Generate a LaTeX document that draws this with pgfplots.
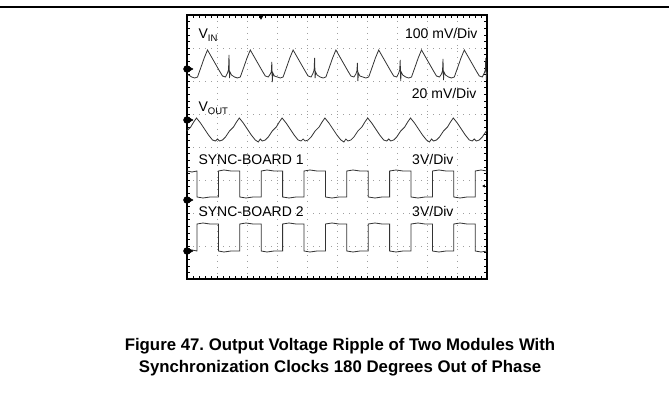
\documentclass[border=0pt]{standalone}
\usepackage{fontspec}
\setmainfont{Liberation Sans}
\usepackage{pgfplots}
\pgfplotsset{compat=1.18}
\frenchspacing
\begin{document}
\begin{tikzpicture}[x=1pt,y=1pt]
\useasboundingbox (0,0) rectangle (669,393);
\draw[line width=1.3pt] (0,386) -- (669,386);
\begin{axis}[
  at={(187pt,114pt)}, anchor=south west,
  width=300pt, height=264pt, scale only axis,
  xmin=187, xmax=487, ymin=15, ymax=279, y dir=reverse,
  xtick={187,217,...,487}, ytick={15,48,...,279},
  xticklabels={}, yticklabels={},
  minor x tick num=4, minor y tick num=4,
  tick align=inside, major tick length=3pt, minor tick length=3pt,
  tick style={black, line width=0.5pt},
  grid=major,
  major grid style={gray!75, line width=0.6pt, dash pattern=on 0.7pt off 5.3pt},
  axis line style={line width=1.2pt},
  clip=false,
]
% V_IN
\addplot[black!80, line width=0.8pt] coordinates {
(187,75)(188.7,75)(191.7,77)(194.7,78)(197.5,77)(200.7,68)(204.2,58)(207.5,50)
(211.5,57)(215.5,64)(219.5,71)(222.5,76)(225.5,77)(227.5,73)(228.5,70)(229,55)(229.5,78)(230,72)(231.5,75)(234.5,77)(237.5,78)(240.3,77)(243.5,68)(247,58)(250.3,50)
(254.3,57)(258.3,64)(262.3,71)(265.3,76)(268.3,77)(270.3,74)(271.3,72)(271.8,62)(272.3,82)(272.8,73)(274.3,76)(277.3,77)(280.3,78)(283.1,77)(286.3,68)(289.8,58)(293.1,50)
(297.1,57)(301.1,64)(305.1,71)(308.1,76)(311.1,77)(313.1,73)(314.1,70)(314.6,58)(315.1,78)(315.6,72)(317.1,75)(320.1,77)(323.1,78)(325.9,77)(329.1,68)(332.6,58)(335.9,50)
(339.9,57)(343.9,64)(347.9,71)(350.9,76)(353.9,77)(355.9,74)(356.9,71)(357.4,63)(357.9,81)(358.4,73)(359.9,76)(362.9,77)(365.9,78)(368.7,77)(371.9,68)(375.4,58)(378.7,50)
(382.7,57)(386.7,64)(390.7,71)(393.7,76)(396.7,77)(398.7,73)(399.7,70)(400.2,60)(400.7,81)(401.2,72)(402.7,75)(405.7,77)(408.7,78)(411.5,77)(414.7,68)(418.2,58)(421.5,50)
(425.5,57)(429.5,64)(433.5,71)(436.5,76)(439.5,77)(441.5,74)(442.5,71)(443,59)(443.5,80)(444,72)(445.5,75)(448.5,77)(451.5,78)(454.3,77)(457.5,68)(461,58)(464.3,50)
(468.3,57)(472.3,64)(476.3,71)(479.3,76)(482.3,77)(484.3,73)(485.3,70)(485.8,58)(486.3,80)(486.8,72)(487,74)
};
% V_OUT
\addplot[black!80, line width=0.8pt] coordinates {
(187,131)(188.7,129)(190.7,127)(193.7,122)(196.5,118)
(200.5,123)(204.5,129)(208.5,135)(212.5,140)(215.5,141)(217.5,139)(219.5,141)(222.5,140)(225.5,137)(229.5,131)(231.5,129)(233.5,127)(236.5,122)(239.3,118)
(243.3,123)(247.3,129)(251.3,135)(255.3,140)(258.3,142)(260.3,139)(262.3,141)(265.3,140)(268.3,137)(272.3,131)(274.3,129)(276.3,127)(279.3,122)(282.1,118)
(286.1,123)(290.1,129)(294.1,135)(298.1,140)(301.1,141)(303.1,139)(305.1,141)(308.1,140)(311.1,137)(315.1,131)(317.1,129)(319.1,127)(322.1,122)(324.9,118)
(328.9,123)(332.9,129)(336.9,135)(340.9,140)(343.9,142)(345.9,139)(347.9,141)(350.9,140)(353.9,137)(357.9,131)(359.9,129)(361.9,127)(364.9,122)(367.7,118)
(371.7,123)(375.7,129)(379.7,135)(383.7,140)(386.7,141)(388.7,139)(390.7,141)(393.7,140)(396.7,137)(400.7,131)(402.7,129)(404.7,127)(407.7,122)(410.5,118)
(414.5,123)(418.5,129)(422.5,135)(426.5,140)(429.5,142)(431.5,139)(433.5,141)(436.5,140)(439.5,137)(443.5,131)(445.5,129)(447.5,127)(450.5,122)(453.3,118)
(457.3,123)(461.3,129)(465.3,135)(469.3,140)(472.3,141)(474.3,139)(476.3,141)(479.3,140)(482.3,137)(486.3,131)(487,130)
};
% SYNC-BOARD 1
\addplot[black!80, line width=0.8pt] coordinates {
(187,171)(192,172)(197,171)(197,197)(203,198)(210,197)(218.4,197)(218.4,171)(224,170)(231,171)(239.8,171)(239.8,197)(246,198)(253,197)(261.2,197)
(261.2,171)(267,170)(274,171)(282.6,171)(282.6,197)(289,198)(296,197)(304,197)(304,171)(310,170)(317,171)(325.4,171)(325.4,197)(332,198)(339,197)(346.8,197)
(346.8,171)(353,170)(360,171)(368.2,171)(368.2,197)(375,198)(382,197)(389.6,197)(389.6,171)(396,170)(403,171)(411,171)(411,197)(418,198)(425,197)(432.4,197)
(432.4,171)(439,170)(446,171)(453.8,171)(453.8,197)(460,198)(467,197)(475.2,197)(475.2,171)(481,170)(487,171)
};
% SYNC-BOARD 2
\addplot[black!80, line width=0.8pt] coordinates {
(187,251)(192,250)(197,251)(197,224)(203,223)(210,224)(218.4,224)(218.4,251)(224,252)(231,251)(239.8,251)(239.8,224)(246,223)(253,224)(261.2,224)
(261.2,251)(267,252)(274,251)(282.6,251)(282.6,224)(289,223)(296,224)(304,224)(304,251)(310,252)(317,251)(325.4,251)(325.4,224)(332,223)(339,224)(346.8,224)
(346.8,251)(353,252)(360,251)(368.2,251)(368.2,224)(375,223)(382,224)(389.6,224)(389.6,251)(396,252)(403,251)(411,251)(411,224)(418,223)(425,224)(432.4,224)
(432.4,251)(439,252)(446,251)(453.8,251)(453.8,224)(460,223)(467,224)(475.2,224)(475.2,251)(481,252)(487,251)
};
% ground markers
\addplot[only marks, mark=*, mark size=3.5pt, black] coordinates {(187,69)(187,120)(187,200)(187,251)};
\addplot[only marks, mark=triangle*, mark size=3pt, mark options={rotate=-90}, black] coordinates {(190,69)(190,120)(190,200)(190,251)};
\addplot[only marks, mark=triangle*, mark size=2.3pt, mark options={rotate=180}, black] coordinates {(261,17)};
\addplot[only marks, mark=triangle*, mark size=1.3pt, mark options={rotate=90}, black] coordinates {(484,186)};
% labels
\node[anchor=base west, font=\fontsize{14}{16}\selectfont] at (axis cs:195,39) {V\raisebox{-2.5pt}{\fontsize{9.5}{10}\selectfont IN}};
\node[anchor=base east, font=\fontsize{14}{16}\selectfont] at (axis cs:481,39) {100 mV/Div};
\node[anchor=base west, font=\fontsize{14}{16}\selectfont] at (axis cs:195,112) {V\raisebox{-2.5pt}{\fontsize{9.5}{10}\selectfont OUT}};
\node[anchor=base east, font=\fontsize{14}{16}\selectfont] at (axis cs:480,99) {20 mV/Div};
\node[anchor=base west, font=\fontsize{14}{16}\selectfont] at (axis cs:195,165) {SYNC-BOARD 1};
\node[anchor=base east, font=\fontsize{14}{16}\selectfont] at (axis cs:457,165) {3V/Div};
\node[anchor=base west, font=\fontsize{14}{16}\selectfont] at (axis cs:195,217) {SYNC-BOARD 2};
\node[anchor=base east, font=\fontsize{14}{16}\selectfont] at (axis cs:457,217) {3V/Div};
\end{axis}
\node[anchor=base, font=\bfseries\fontsize{16.8}{20}\selectfont] at (340,42) {Figure 47. Output Voltage Ripple of Two Modules With};
\node[anchor=base, font=\bfseries\fontsize{16.8}{20}\selectfont] at (340,20) {Synchronization Clocks 180 Degrees Out of Phase};
\end{tikzpicture}
\end{document}
